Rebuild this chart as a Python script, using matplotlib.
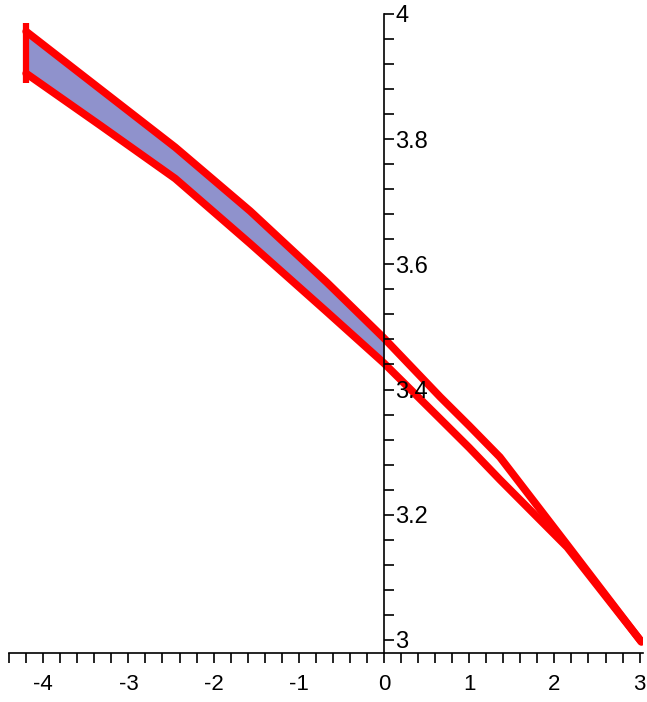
import matplotlib
matplotlib.use("Agg")
from matplotlib import pyplot as plt
from matplotlib.ticker import FixedLocator, MultipleLocator, FixedFormatter

plt.rcParams["font.family"] = ["Liberation Sans", "DejaVu Sans"]

# Punti
x_punti = [-4.2, -3.33, -2.45, -1.57, -0.67, 0.0, 0.66, 1.0, 1.36, 2.15, 3.02]
curva_sopra = [3.972, 3.88, 3.787, 3.685, 3.571, 3.482, 3.388, 3.342, 3.292, 3.152, 2.997]
curva_sotto = [3.905, 3.822, 3.737, 3.633, 3.524, 3.442, 3.353, 3.307, 3.256, 3.148, 2.997]
bordo_x = [-4.2, -4.2]
bordo_y = [3.89, 3.985]

x_ticks = [-4, -3, -2, -1, 0, 1, 2, 3]
y_ticks = [3.0, 3.2, 3.4, 3.6, 3.8, 4.0]
y_labels = ["3", "3.2", "3.4", "3.6", "3.8", "4"]

ROSSO = "#ff0000"
LILLA = "#8f92cc"

fig = plt.figure(figsize=(6.47, 7.02), dpi=100)
ax = fig.add_axes([0.01406, 0.0698, 0.9798, 0.9103])
ax.set_xlim(-4.4, 3.04)
ax.set_ylim(2.979, 4.0)

# riempimento solo per x <= 0
n = x_punti.index(0.0) + 1
ax.fill_between(x_punti[:n], curva_sotto[:n], curva_sopra[:n], color=LILLA, lw=0, zorder=1)

ax.plot(x_punti, curva_sopra, color=ROSSO, lw=5.5, solid_capstyle="round", solid_joinstyle="round", zorder=2)
ax.plot(x_punti, curva_sotto, color=ROSSO, lw=5.5, solid_capstyle="round", solid_joinstyle="round", zorder=2)
ax.plot(bordo_x, bordo_y, color=ROSSO, lw=4.5, solid_capstyle="butt", zorder=2)

# assi stile Maple
ax.spines["top"].set_visible(False)
ax.spines["left"].set_visible(False)
ax.spines["right"].set_position(("data", 0))
ax.spines["right"].set_linewidth(1.2)
ax.spines["bottom"].set_linewidth(1.2)
ax.yaxis.tick_right()
ax.set_axisbelow(False)

ax.xaxis.set_major_locator(FixedLocator(x_ticks))
ax.xaxis.set_minor_locator(MultipleLocator(0.2))
ax.set_xticklabels([str(v) for v in x_ticks])
ax.yaxis.set_major_locator(FixedLocator(y_ticks))
ax.yaxis.set_major_formatter(FixedFormatter(y_labels))
ax.yaxis.set_minor_locator(MultipleLocator(0.04))

ax.tick_params(axis="x", which="both", direction="out", length=7, width=1.2, color="black")
ax.tick_params(axis="x", which="major", labelsize=16, pad=8)
ax.tick_params(axis="y", which="both", direction="out", length=7, width=1.2, color="black")
ax.tick_params(axis="y", which="major", labelsize=17, pad=1)

fig.savefig("out.png", dpi=100)
